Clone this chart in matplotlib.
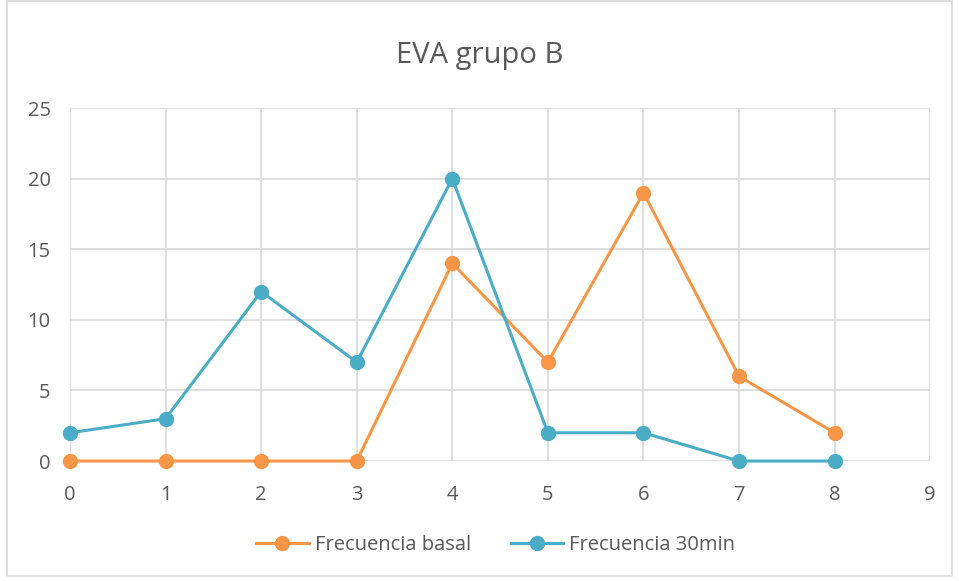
import numpy as np
import matplotlib.pyplot as plt
from matplotlib.patches import Rectangle

plt.rcParams['font.family'] = ['Open Sans', 'DejaVu Sans']

# --------------------- datos ---------------------
x_vals = [0, 1, 2, 3, 4, 5, 6, 7, 8]
basal = [0, 0, 0, 0, 14, 7, 19, 6, 2]
min30 = [2, 3, 12, 7, 20, 2, 2, 0, 0]
x_ticks = list(range(0, 10))
y_ticks = [0, 5, 10, 15, 20, 25]

c_basal = '#F79646'
c_30 = '#4BACC6'
grey_txt = '#595959'

fig = plt.figure(figsize=(9.59, 5.81), dpi=100)
ax = fig.add_axes([0.073, 0.2065, 0.897, 0.6075])

ax.plot(x_vals, basal, color=c_basal, lw=2.2, marker='o', ms=10, label='Frecuencia basal', zorder=3, clip_on=False)
ax.plot(x_vals, min30, color=c_30, lw=2.2, marker='o', ms=10, label='Frecuencia 30min', zorder=3, clip_on=False)

ax.set_xlim(0, 9)
ax.set_ylim(0, 25)
ax.set_xticks(x_ticks)
ax.set_yticks(y_ticks)
ax.grid(True, color='#D9D9D9', lw=1.2)
ax.set_axisbelow(True)
for s in ax.spines.values():
    s.set_visible(False)
ax.tick_params(length=0, labelsize=14.5, labelcolor=grey_txt)
ax.tick_params(axis='x', pad=17)
ax.tick_params(axis='y', pad=14)

fig.text(0.5, 0.905, 'EVA grupo B', ha='center', va='center', fontsize=21, color=grey_txt)
fig.legend(loc='center', bbox_to_anchor=(0.517, 0.062), ncol=2, frameon=False,
           fontsize=14.5, labelcolor=grey_txt, handlelength=2.6, columnspacing=2.0, handletextpad=0.3)

# marco exterior
fig.patches.append(Rectangle((0.007, 0.008), 0.986, 0.99, transform=fig.transFigure,
                             fill=False, edgecolor='#D9D9D9', lw=1.2))

fig.savefig('out.png', dpi=100)
